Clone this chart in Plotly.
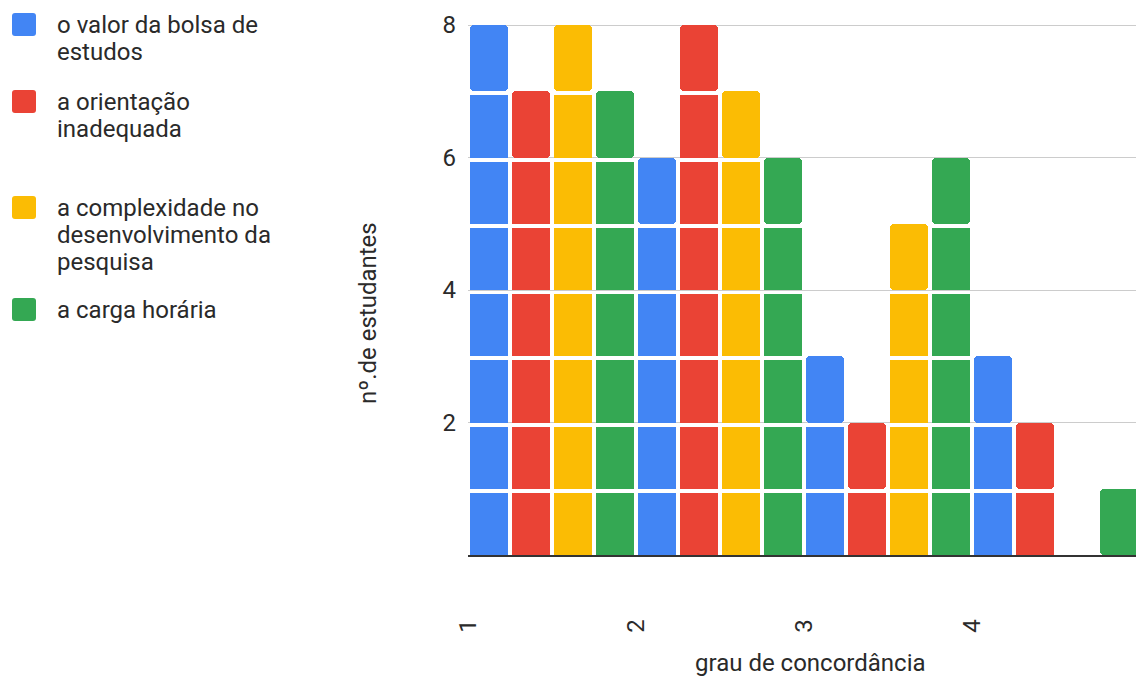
import plotly.graph_objects as go

# grau de concordância (bins) and counts of students per factor
grau = [1, 2, 3, 4]
fatores = [
    "o valor da bolsa de<br>estudos",
    "a orientação<br>inadequada",
    "a complexidade no<br>desenvolvimento da<br>pesquisa",
    "a carga horária",
]
valor_bolsa = [8, 6, 3, 3]
orientacao = [7, 8, 2, 2]
complexidade = [8, 7, 5, 0]
carga_horaria = [7, 6, 6, 1]
y_ticks = [2, 4, 6, 8]
x_ticks = [1, 2, 3, 4]

series = [valor_bolsa, orientacao, complexidade, carga_horaria]
cores = ["#4285F4", "#EA4335", "#FBBC04", "#34A853"]

# ---- page geometry (pixels) ----
W, H = 1136, 680
ML, MR, MT, MB = 468, 0, 12, 125
PX_BIN = 168.0          # width of one bin
PX_UNIT = 66.25         # height of one student
plot_w = W - ML - MR
plot_h = H - MT - MB
x_range = [1, 1 + plot_w / PX_BIN]
y_range = [0, plot_h / PX_UNIT]

n = len(series)
slot = 1.0 / n
bar_w = slot * 38.0 / 42.0
gap = 4.0 / PX_UNIT
TXT = "#2a2a2a"
FONT = "Roboto, Arial, sans-serif"


def px_x(px):
    return (px - ML) / plot_w


def px_y(py):
    return (H - MB - py) / plot_h


fig = go.Figure()

# each bar is a stack of one-student blocks; top block has rounded corners
for s, (vals, cor) in enumerate(zip(series, cores)):
    bx, bb, by = [], [], []
    tx, tb, ty = [], [], []
    for g, v in zip(grau, vals):
        cx = g + (s + 0.5) * slot
        for k in range(v - 1):
            bx.append(cx)
            bb.append(k)
            by.append(1 - gap)
        if v > 0:
            tx.append(cx)
            tb.append(v - 1)
            ty.append(1)
    name = fatores[s].replace("<br>", " ")
    fig.add_trace(go.Bar(x=bx, y=by, base=bb, width=bar_w, name=name,
                         marker=dict(color=cor, line=dict(width=0)),
                         showlegend=False, hoverinfo="skip"))
    fig.add_trace(go.Bar(x=tx, y=ty, base=tb, width=bar_w, name=name,
                         marker=dict(color=cor, line=dict(width=0), cornerradius=4),
                         showlegend=False, hoverinfo="skip"))

# ---- legend drawn on the left ----
shapes = []
annotations = []
legend_first_line = [25, 102, 208, 310]
line_step = 27
for nome, cor, y0 in zip(fatores, cores, legend_first_line):
    x0p, x1p = px_x(12), px_x(36)
    y_top, y_bot = px_y(y0 - 12), px_y(y0 + 11)
    r_x = 3.0 / plot_w
    r_y = 3.0 / plot_h
    path = (f"M {x0p + r_x},{y_top} L {x1p - r_x},{y_top} Q {x1p},{y_top} {x1p},{y_top - r_y} "
            f"L {x1p},{y_bot + r_y} Q {x1p},{y_bot} {x1p - r_x},{y_bot} "
            f"L {x0p + r_x},{y_bot} Q {x0p},{y_bot} {x0p},{y_bot + r_y} "
            f"L {x0p},{y_top - r_y} Q {x0p},{y_top} {x0p + r_x},{y_top} Z")
    shapes.append(dict(type="path", xref="paper", yref="paper", path=path,
                       fillcolor=cor, line=dict(width=0), layer="above"))
    for i, linha in enumerate(nome.split("<br>")):
        annotations.append(dict(text=linha, xref="paper", yref="paper",
                                x=px_x(55), y=px_y(y0 + i * line_step),
                                xanchor="left", yanchor="middle", showarrow=False,
                                font=dict(size=24, color=TXT, family=FONT)))

# axis titles
annotations.append(dict(text="nº.de estudantes", xref="paper", yref="paper",
                        x=px_x(368), y=px_y(313), textangle=-90,
                        xanchor="center", yanchor="middle", showarrow=False,
                        font=dict(size=24, color=TXT, family=FONT)))
annotations.append(dict(text="grau de concordância", xref="paper", yref="paper",
                        x=px_x(810), y=px_y(663),
                        xanchor="center", yanchor="middle", showarrow=False,
                        font=dict(size=24, color=TXT, family=FONT)))

fig.update_layout(
    width=W, height=H,
    margin=dict(l=ML, r=MR, t=MT, b=MB, pad=0),
    paper_bgcolor="white", plot_bgcolor="white",
    barmode="overlay",
    bargap=0,
    shapes=shapes,
    annotations=annotations,
    font=dict(family=FONT, color=TXT, size=24),
    xaxis=dict(range=x_range, tickvals=x_ticks, ticktext=[str(t) for t in x_ticks],
               tickangle=-90, showgrid=False, zeroline=False,
               showline=True, linecolor="#333333", linewidth=1.5,
               ticks="", ticklabelstandoff=53,
               tickfont=dict(size=24, color=TXT, family=FONT)),
    yaxis=dict(range=y_range, tickvals=y_ticks, showgrid=True,
               gridcolor="#cccccc", gridwidth=1, zeroline=False, showline=False,
               ticks="", ticklabelstandoff=11,
               tickfont=dict(size=24, color=TXT, family=FONT)),
)

fig.write_html("out.html")
